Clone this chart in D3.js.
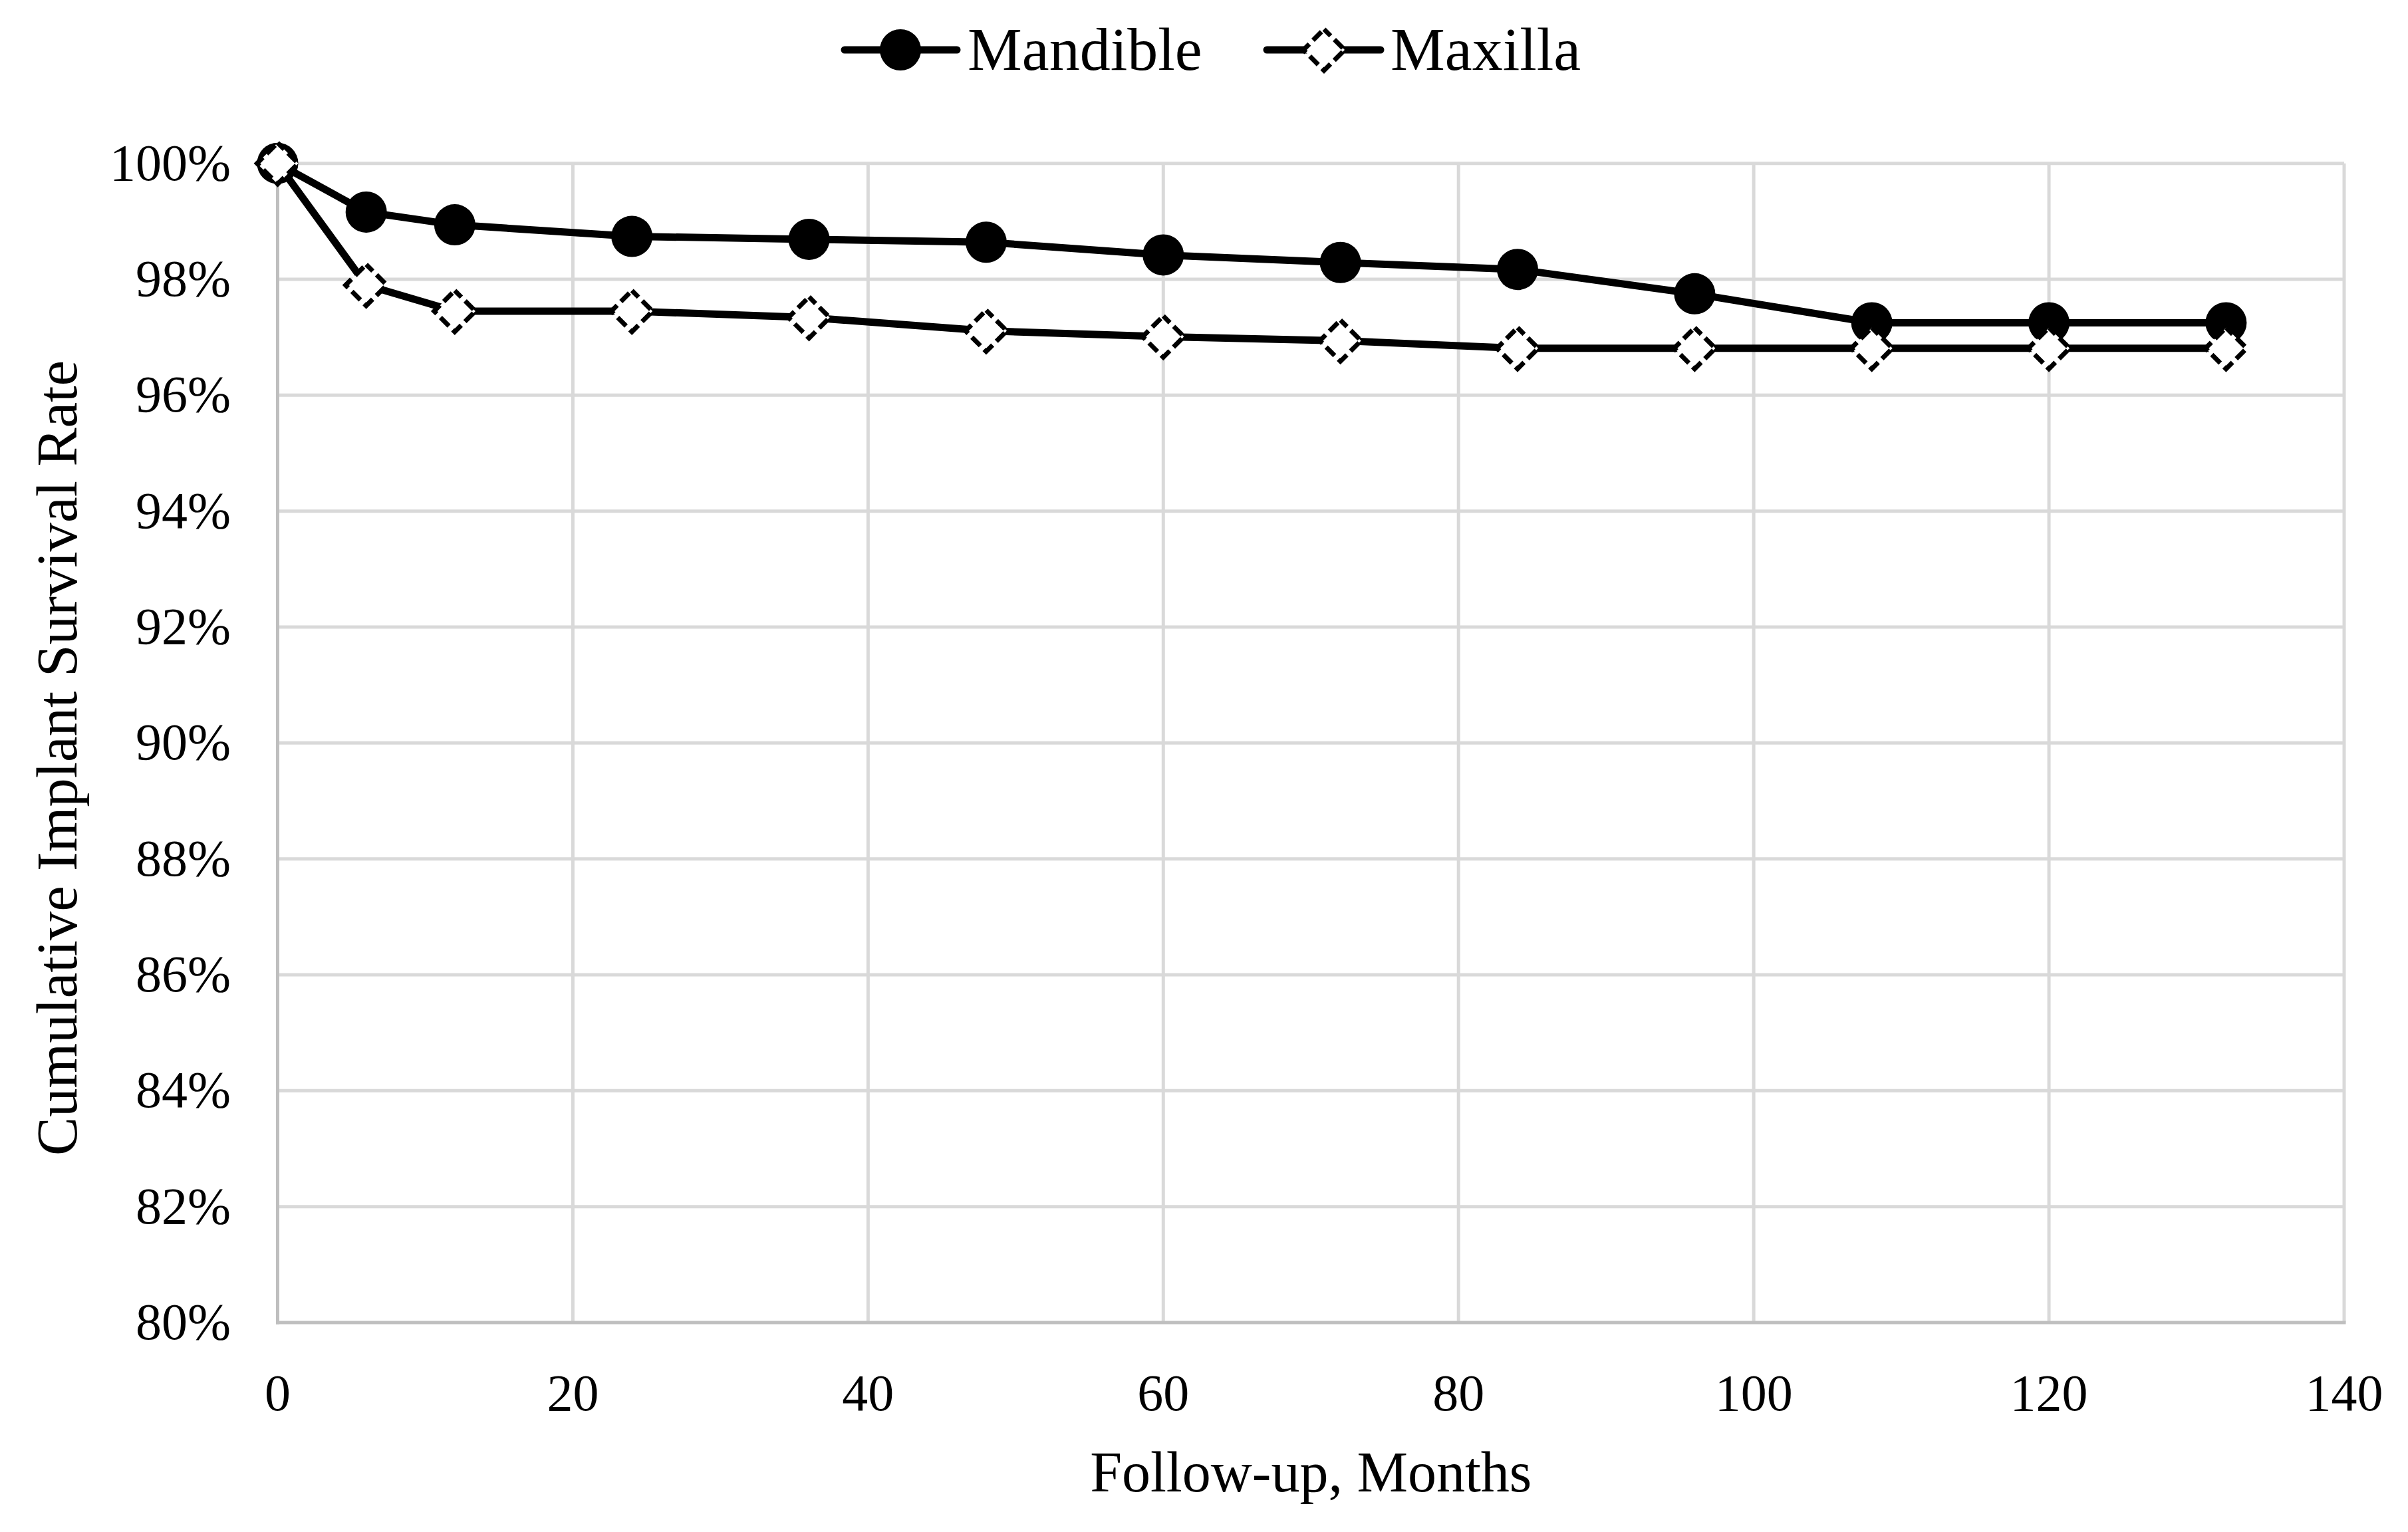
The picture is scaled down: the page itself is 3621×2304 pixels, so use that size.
<!DOCTYPE html>
<html><head><meta charset="utf-8">
<script src="https://cdn.jsdelivr.net/npm/d3@7"></script>
<style>html,body{margin:0;padding:0;background:#fff;}</style>
</head><body>
<svg id="chart" width="3621" height="2304"></svg>
<script>
const months = [0, 6, 12, 24, 36, 48, 60, 72, 84, 96, 108, 120, 132];
const mandible = [1.0, 0.9916, 0.9894, 0.9874, 0.9869, 0.9864, 0.9842, 0.9829, 0.9817, 0.9775, 0.9725, 0.9725, 0.9725];
const maxilla  = [1.0, 0.9790, 0.9745, 0.9745, 0.9734, 0.9711, 0.9701, 0.9694, 0.9681, 0.9681, 0.9681, 0.9681, 0.9681];
const seriesNames = ["Mandible", "Maxilla"];
const xTicks = [0, 20, 40, 60, 80, 100, 120, 140];
const yTicks = [0.80, 0.82, 0.84, 0.86, 0.88, 0.90, 0.92, 0.94, 0.96, 0.98, 1.00];
const yTickLabels = ["80%", "82%", "84%", "86%", "88%", "90%", "92%", "94%", "96%", "98%", "100%"];
const xTitle = "Follow-up, Months";
const yTitle = "Cumulative Implant Survival Rate";

(function () {
const FONT = "'Liberation Serif', 'Times New Roman', serif";
const svg = d3.select("#chart");
svg.append("rect").attr("width", 3621).attr("height", 2304).attr("fill", "#fff");

const pL = 417.5, pR = 3525, pT = 245.7, pB = 1989;
const x = d3.scaleLinear().domain([0, 140]).range([pL, pR]);
const y = d3.scaleLinear().domain([0.80, 1.00]).range([pB, pT]);

// gridlines
const g = svg.append("g");
g.selectAll("line.hg").data(yTicks.slice(1)).join("line")
  .attr("x1", pL).attr("x2", pR)
  .attr("y1", d => y(d)).attr("y2", d => y(d))
  .attr("stroke", "#d9d9d9").attr("stroke-width", 5);
g.selectAll("line.vg").data(xTicks.slice(1)).join("line")
  .attr("y1", pT).attr("y2", pB)
  .attr("x1", d => x(d)).attr("x2", d => x(d))
  .attr("stroke", "#d9d9d9").attr("stroke-width", 5);
// axis lines
g.append("line").attr("x1", pL).attr("x2", pL).attr("y1", pT).attr("y2", pB + 2.5)
  .attr("stroke", "#bfbfbf").attr("stroke-width", 5);
g.append("line").attr("x1", pL - 2.5).attr("x2", pR + 2.5).attr("y1", pB).attr("y2", pB)
  .attr("stroke", "#bfbfbf").attr("stroke-width", 5);

// tick labels
svg.append("g").selectAll("text").data(yTicks).join("text")
  .attr("x", 347).attr("y", d => y(d) + 25)
  .attr("text-anchor", "end").attr("font-family", FONT).attr("font-size", 78).attr("fill", "#000")
  .text((d, i) => yTickLabels[i]);
svg.append("g").selectAll("text").data(xTicks).join("text")
  .attr("x", d => x(d)).attr("y", 2121)
  .attr("text-anchor", "middle").attr("font-family", FONT).attr("font-size", 78).attr("fill", "#000")
  .text(d => d);

// axis titles
svg.append("text").attr("x", (pL + pR) / 2).attr("y", 2243)
  .attr("text-anchor", "middle").attr("font-family", FONT).attr("font-size", 86).attr("fill", "#000")
  .text(xTitle);
svg.append("text").attr("transform", "translate(115,1140) rotate(-90)")
  .attr("text-anchor", "middle").attr("font-family", FONT).attr("font-size", 87).attr("fill", "#000")
  .text(yTitle);

const diamondPath = (r) => `M0,${-r}L${r},0L0,${r}L${-r},0Z`;
const line = d3.line().x(d => x(d[0])).y(d => y(d[1]));

function drawSeries(vals, kind) {
  const pts = months.map((m, i) => [m, vals[i]]);
  svg.append("path").datum(pts).attr("d", line)
    .attr("fill", "none").attr("stroke", "#000").attr("stroke-width", 11)
    .attr("stroke-linejoin", "round").attr("stroke-linecap", "round");
  const mg = svg.append("g");
  if (kind === "circle") {
    mg.selectAll("circle").data(pts).join("circle")
      .attr("cx", d => x(d[0])).attr("cy", d => y(d[1])).attr("r", 31).attr("fill", "#000");
  } else {
    mg.selectAll("path").data(pts).join("path")
      .attr("transform", d => `translate(${x(d[0])},${y(d[1])})`)
      .attr("d", diamondPath(31))
      .attr("fill", "#fff").attr("stroke", "#000").attr("stroke-width", 7)
      .attr("stroke-dasharray", "18 8").attr("stroke-dashoffset", 4);
  }
}
drawSeries(mandible, "circle");
drawSeries(maxilla, "diamond");

// legend
const lg = svg.append("g");
const legendItems = [
  {name: seriesNames[0], x1: 1270, x2: 1439, mx: 1354, tx: 1455, kind: "circle"},
  {name: seriesNames[1], x1: 1905, x2: 2076, mx: 1991, tx: 2091, kind: "diamond"}
];
legendItems.forEach(it => {
  lg.append("line").attr("x1", it.x1).attr("x2", it.x2).attr("y1", 75).attr("y2", 75)
    .attr("stroke", "#000").attr("stroke-width", 11).attr("stroke-linecap", "round");
  if (it.kind === "circle") {
    lg.append("circle").attr("cx", it.mx).attr("cy", 75).attr("r", 31).attr("fill", "#000");
  } else {
    lg.append("path").attr("transform", `translate(${it.mx},75)`).attr("d", diamondPath(31))
      .attr("fill", "#fff").attr("stroke", "#000").attr("stroke-width", 7)
      .attr("stroke-dasharray", "18 8").attr("stroke-dashoffset", 4);
  }
  lg.append("text").attr("x", it.tx).attr("y", 105).attr("font-family", FONT).attr("font-size", 92)
    .attr("fill", "#000").text(it.name);
});
})();
</script>
</body></html>
